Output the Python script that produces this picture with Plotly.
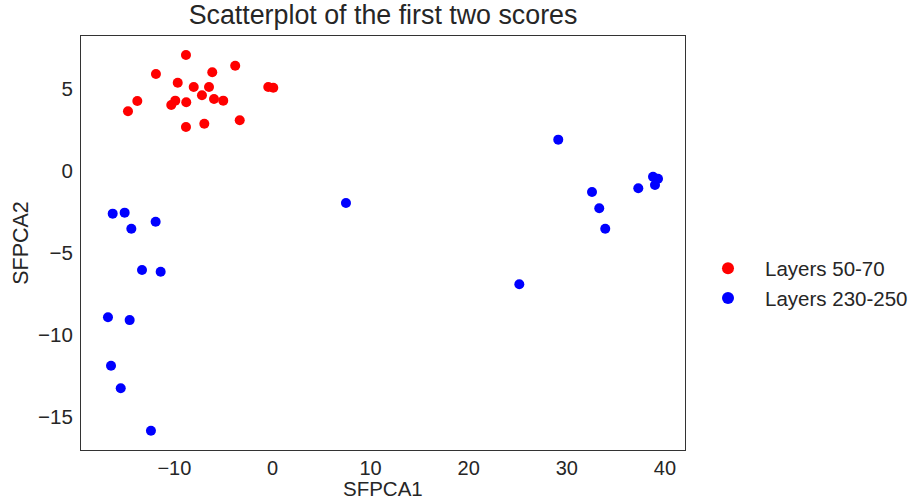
import plotly.graph_objects as go

red_x = [-8.82, -11.88, -3.80, -9.66, -6.14, -8.03, -6.47, -0.43, 0.08, -7.19,
         -13.78, -9.91, -10.32, -8.79, -5.96, -5.02, -14.73, -8.82, -6.95, -3.34]
red_y = [7.07, 5.91, 6.42, 5.38, 6.02, 5.12, 5.12, 5.12, 5.08, 4.62,
         4.27, 4.29, 4.02, 4.19, 4.39, 4.29, 3.64, 2.68, 2.88, 3.09]

blue_x = [-16.29, -15.07, -11.91, -14.39, -13.30, -11.40, -16.77, -14.56, -16.46, -15.47,
          -12.39, 7.49, 25.16, 29.13, 32.57, 33.31, 33.92, 37.29, 38.79, 39.30, 38.99]
blue_y = [-2.60, -2.54, -3.09, -3.52, -6.04, -6.14, -8.92, -9.09, -11.87, -13.25,
          -15.84, -1.95, -6.91, 1.91, -1.28, -2.27, -3.52, -1.05, -0.35, -0.47, -0.85]

series_names = ["Layers 50-70", "Layers 230-250"]
x_ticks = [-10, 0, 10, 20, 30, 40]
y_ticks = [-15, -10, -5, 0, 5]

font = "Liberation Sans, Arial, sans-serif"
txt = "#262626"

fig = go.Figure()
fig.add_trace(go.Scatter(x=red_x, y=red_y, mode="markers", name=series_names[0],
                         marker=dict(color="#ff0000", size=10, line=dict(width=0))))
fig.add_trace(go.Scatter(x=blue_x, y=blue_y, mode="markers", name=series_names[1],
                         marker=dict(color="#0000ff", size=10, line=dict(width=0))))

axis_common = dict(showgrid=False, zeroline=False, showline=True, linecolor="#333333",
                   linewidth=1, mirror=True, ticks="outside",
                   tickcolor="rgba(0,0,0,0)", automargin=False,
                   title_font=dict(family=font, size=21.5, color=txt))

fig.update_layout(
    width=910, height=502,
    margin=dict(l=81, r=225, t=36, b=52, autoexpand=False),
    paper_bgcolor="white", plot_bgcolor="white",
    title=dict(text="Scatterplot of the first two scores", x=(81 + 685) / 2 / 910,
               xanchor="center", y=1 - 15 / 502, yanchor="middle",
               font=dict(family=font, size=26.8, color=txt)),
    xaxis=dict(range=[-19.52, 42.05], tickvals=x_ticks, ticklen=0,
               tickfont=dict(family=font, size=20, color=txt), **axis_common),
    yaxis=dict(range=[-17.01, 8.23], tickvals=y_ticks, ticklen=3,
               tickfont=dict(family=font, size=20.5, color=txt),
               title=dict(text="SFPCA2", standoff=3), **axis_common),
    legend=dict(x=(691 - 81) / 604, y=(450 - 283.5) / 414, xanchor="left", yanchor="middle",
                font=dict(family=font, size=20.5, color=txt), itemsizing="constant",
                itemwidth=64),
    showlegend=True,
)
fig.add_annotation(text="SFPCA1", xref="paper", yref="paper", x=0.5, y=-(501 - 450) / 414,
                   xanchor="center", yanchor="bottom", showarrow=False, borderpad=0,
                   font=dict(family=font, size=20.5, color=txt))

fig.write_html("out.html")
